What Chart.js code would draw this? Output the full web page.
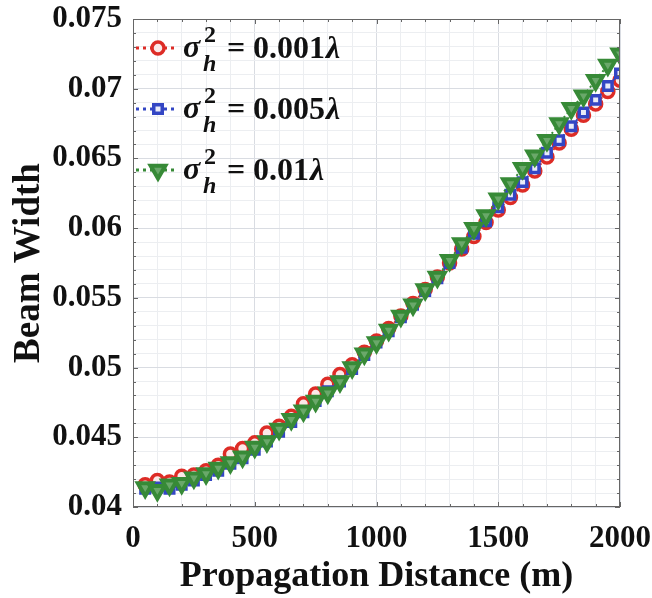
<!DOCTYPE html>
<html>
<head>
<meta charset="utf-8">
<script src="https://cdn.jsdelivr.net/npm/chart.js@4.4.0/dist/chart.umd.min.js"></script>
<style>
  body { margin: 0; background: #fff; }
</style>
</head>
<body>
<canvas id="myChart" width="652" height="598"></canvas>
<script>
// propagation distance (m)
const distancias = [50, 100, 150, 200, 250, 300, 350, 400, 450, 500,
  550, 600, 650, 700, 750, 800, 850, 900, 950, 1000,
  1050, 1100, 1150, 1200, 1250, 1300, 1350, 1400, 1450, 1500,
  1550, 1600, 1650, 1700, 1750, 1800, 1850, 1900, 1950, 2000];

// beam width, sigma_h^2 = 0.001 lambda
const ancho001 = [0.0416, 0.0419, 0.0418, 0.0422, 0.0423, 0.0426, 0.0430, 0.0438, 0.0442, 0.0446,
  0.0453, 0.0458, 0.0465, 0.0474, 0.0481, 0.0488, 0.0495, 0.0502, 0.0511, 0.0519,
  0.0528, 0.0537, 0.0546, 0.0556, 0.0565, 0.0575, 0.0585, 0.0594, 0.0604, 0.0613,
  0.0622, 0.0631, 0.0641, 0.0651, 0.0661, 0.0671, 0.0681, 0.0689, 0.0698, 0.0706];

// sigma_h^2 = 0.005 lambda
const ancho005 = [0.0413, 0.0414, 0.0413, 0.0416, 0.0419, 0.0423, 0.0426, 0.0431, 0.0435, 0.0441,
  0.0447, 0.0454, 0.0461, 0.0468, 0.0476, 0.0483, 0.0490, 0.0499, 0.0509, 0.0518,
  0.0526, 0.0536, 0.0545, 0.0555, 0.0564, 0.0575, 0.0586, 0.0596, 0.0605, 0.0615,
  0.0624, 0.0633, 0.0643, 0.0654, 0.0663, 0.0673, 0.0683, 0.0692, 0.0702, 0.0711];

// sigma_h^2 = 0.01 lambda
const ancho01 = [0.0414, 0.0412, 0.0416, 0.0417, 0.0421, 0.0424, 0.0428, 0.0432, 0.0436, 0.0443,
  0.0447, 0.0456, 0.0463, 0.0469, 0.0476, 0.0482, 0.0490, 0.0500, 0.0510, 0.0518,
  0.0527, 0.0537, 0.0545, 0.0556, 0.0565, 0.0577, 0.0589, 0.0600, 0.0609, 0.0621,
  0.0632, 0.0643, 0.0652, 0.0663, 0.0675, 0.0686, 0.0695, 0.0706, 0.0717, 0.0725];

const leyendas = ["0.001", "0.005", "0.01"];
const ticksX = [0, 500, 1000, 1500, 2000];

const rojo = "#dd2c26";
const azul = "#3346c4";
const verde = "#378a37";
const serif = "'Liberation Serif', 'Times New Roman', serif";

function puntos(valores) {
  return distancias.map((d, i) => ({ x: d, y: valores[i] }));
}

const datasets = [
  {
    label: leyendas[0], data: puntos(ancho001), order: 2,
    borderColor: rojo, borderWidth: 2, borderDash: [2, 3],
    pointStyle: "circle", pointRadius: 6, pointBorderWidth: 3.5,
    pointBackgroundColor: "#fbe9e8", pointBorderColor: rojo
  },
  {
    label: leyendas[1], data: puntos(ancho005), order: 1,
    borderColor: azul, borderWidth: 2, borderDash: [2, 3],
    pointStyle: "rect", pointRadius: 6, pointBorderWidth: 3.5,
    pointBackgroundColor: "#e9ebf8", pointBorderColor: azul
  },
  {
    label: leyendas[2], data: puntos(ancho01), order: 0,
    borderColor: verde, borderWidth: 2, borderDash: [2, 3],
    pointStyle: "triangle", pointRotation: 180, pointRadius: 8.5, pointBorderWidth: 4,
    pointBackgroundColor: "#6aa86a", pointBorderColor: verde
  }
];

function esMayorY(v) { return Math.round(v * 1000) % 5 === 0; }
function esMayorX(v) { return ticksX.includes(Math.round(v)); }

// frame, inward ticks and the math legend
const extras = {
  id: "extras",
  afterDraw(chart) {
    const ctx = chart.ctx;
    const a = chart.chartArea;
    const sx = chart.scales.x, sy = chart.scales.y;
    ctx.save();
    ctx.strokeStyle = "#666";
    ctx.lineWidth = 1;
    ctx.strokeRect(a.left + 0.5, a.top + 0.5, a.right - a.left - 1, a.bottom - a.top - 1);
    ctx.beginPath();
    sx.ticks.forEach(t => {
      const px = Math.round(sx.getPixelForValue(t.value)) + 0.5;
      const l = esMayorX(t.value) ? 5 : 3;
      ctx.moveTo(px, a.bottom); ctx.lineTo(px, a.bottom - l);
      ctx.moveTo(px, a.top); ctx.lineTo(px, a.top + l);
    });
    sy.ticks.forEach(t => {
      const py = Math.round(sy.getPixelForValue(t.value)) + 0.5;
      const l = esMayorY(t.value) ? 5 : 3;
      ctx.moveTo(a.left, py); ctx.lineTo(a.left + l, py);
      ctx.moveTo(a.right, py); ctx.lineTo(a.right - l, py);
    });
    ctx.stroke();

    // legend
    const filas = [48, 109, 170];
    datasets.forEach((ds, i) => {
      const y = filas[i];
      ctx.setLineDash([3, 4]);
      ctx.lineWidth = 3;
      ctx.strokeStyle = ds.borderColor;
      ctx.beginPath();
      ctx.moveTo(136, y); ctx.lineTo(176, y);
      ctx.stroke();
      ctx.setLineDash([]);
      ctx.fillStyle = ds.pointBackgroundColor;
      ctx.strokeStyle = ds.pointBorderColor;
      ctx.lineWidth = ds.pointBorderWidth;
      Chart.helpers.drawPoint(ctx, {
        pointStyle: ds.pointStyle, rotation: ds.pointRotation || 0,
        radius: ds.pointRadius, borderWidth: ds.pointBorderWidth
      }, 158, y);

      ctx.fillStyle = "#111";
      ctx.textBaseline = "alphabetic";
      ctx.textAlign = "left";
      ctx.font = "italic bold 32px " + serif;
      ctx.fillText("\u03c3", 183, y + 9);
      ctx.font = "bold 24px " + serif;
      ctx.fillText("2", 204, y - 6);
      ctx.font = "italic bold 24px " + serif;
      ctx.fillText("h", 203, y + 23);
      ctx.font = "bold 32px " + serif;
      ctx.fillText("=", 227, y + 10);
      ctx.fillText(ds.label, 253, y + 10);
      const w = ctx.measureText(ds.label).width;
      ctx.font = "italic bold 32px " + serif;
      ctx.fillText("\u03bb", 254 + w, y + 10);
    });
    ctx.restore();
  }
};

const config = {
  type: "line",
  data: { datasets },
  options: {
    responsive: false,
    animation: false,
    layout: { padding: { top: 19, right: 32, bottom: 0, left: 0 } },
    plugins: { legend: { display: false }, tooltip: { enabled: false } },
    scales: {
      x: {
        type: "linear", min: 0, max: 2000,
        afterFit: (s) => { s.height = 91; s.paddingLeft = 0; s.paddingRight = 0; },
        ticks: {
          stepSize: 100, autoSkip: false, maxRotation: 0, padding: 13, color: "#111",
          font: { family: serif, size: 31, weight: "bold" },
          callback: (v) => esMayorX(v) ? String(Math.round(v)) : ""
        },
        grid: {
          drawTicks: false,
          color: (c) => esMayorX(c.tick.value) ? "#d9dce2" : "#eceef1"
        },
        border: { display: false },
        title: {
          display: true, text: "Propagation Distance (m)", color: "#111",
          font: { family: serif, size: 36, weight: "bold" },
          padding: { top: 0, bottom: 0 }
        }
      },
      y: {
        type: "linear", min: 0.04, max: 0.075,
        afterFit: (s) => { s.width = 133; s.paddingTop = 0; s.paddingBottom = 0; },
        ticks: {
          stepSize: 0.001, autoSkip: false, maxTicksLimit: 100, padding: 11, color: "#111",
          font: { family: serif, size: 31, weight: "bold" },
          callback: (v) => esMayorY(v) ? String(parseFloat(v.toFixed(3))) : ""
        },
        grid: {
          drawTicks: false,
          color: (c) => esMayorY(c.tick.value) ? "#d9dce2" : "#eceef1"
        },
        border: { display: false },
        title: {
          display: true, text: "Beam Width", color: "#111",
          font: { family: serif, size: 37, weight: "bold" },
          padding: { top: 7, bottom: 0 }
        }
      }
    }
  },
  plugins: [extras]
};

const ctx = document.getElementById("myChart").getContext("2d");
const myChart = new Chart(ctx, config);
</script>
</body>
</html>
